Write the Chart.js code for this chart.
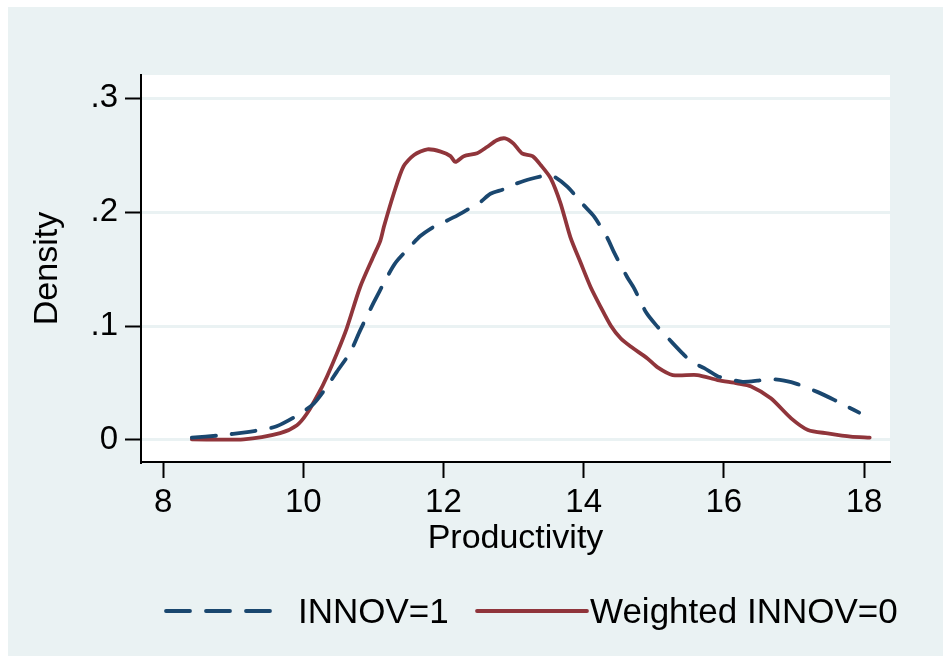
<!DOCTYPE html>
<html lang="en">
<head>
	<meta charset="UTF-8">
	<title>Productivity density</title>
	<script src="https://cdn.jsdelivr.net/npm/chart.js"></script>
	<style>
		html, body { margin: 0; padding: 0; background: #fff; }
		#wrap { position: absolute; left: 8px; top: 7px; width: 935px; height: 649px; background: #eaf2f3; }
	</style>
</head>
<body>
	<div id="wrap"><canvas id="mainChart" width="935" height="649"></canvas></div>

	<script>
		// kernel density, INNOV=1
		const innovX = [8.41, 8.8, 9.2, 9.4, 9.62, 9.9, 10.15, 10.34, 10.48, 10.67, 10.81, 11.0, 11.17, 11.31, 11.53, 11.67, 11.86, 12.0, 12.2, 12.34, 12.53, 12.67, 12.86, 13.0, 13.24, 13.46, 13.58, 13.77, 14.0, 14.15, 14.34, 14.43, 14.62, 14.72, 14.89, 15.03, 15.27, 15.41, 15.53, 15.72, 15.91, 16.1, 16.27, 16.48, 16.67, 16.86, 17.05, 17.34, 17.58, 17.77, 17.93]
		const innovY = [0.002, 0.004, 0.007, 0.009, 0.012, 0.021, 0.032, 0.047, 0.060, 0.077, 0.096, 0.12, 0.140, 0.155, 0.170, 0.179, 0.187, 0.191, 0.197, 0.202, 0.209, 0.216, 0.220, 0.224, 0.229, 0.232, 0.231, 0.222, 0.206, 0.196, 0.177, 0.165, 0.143, 0.133, 0.112, 0.101, 0.085, 0.076, 0.069, 0.063, 0.056, 0.053, 0.051, 0.052, 0.0535, 0.052, 0.049, 0.042, 0.035, 0.029, 0.024]

		// weighted INNOV=0
		const weightedX = [8.41, 9.15, 9.67, 9.91, 10.05, 10.22, 10.34, 10.48, 10.62, 10.81, 11.0, 11.1, 11.15, 11.29, 11.43, 11.58, 11.77, 11.96, 12.1, 12.17, 12.29, 12.48, 12.62, 12.76, 12.88, 13.0, 13.12, 13.27, 13.39, 13.53, 13.67, 13.81, 13.96, 14.1, 14.24, 14.39, 14.53, 14.67, 14.91, 15.05, 15.27, 15.62, 15.91, 16.19, 16.39, 16.67, 16.96, 17.2, 17.48, 17.81, 18.08]
		const weightedY = [0.0006, 0.0006, 0.006, 0.013, 0.023, 0.041, 0.056, 0.076, 0.098, 0.134, 0.161, 0.175, 0.187, 0.216, 0.240, 0.250, 0.255, 0.253, 0.249, 0.244, 0.249, 0.2515, 0.257, 0.263, 0.2646, 0.260, 0.2515, 0.249, 0.241, 0.2295, 0.2076, 0.178, 0.155, 0.134, 0.117, 0.100, 0.089, 0.082, 0.0716, 0.064, 0.057, 0.057, 0.0526, 0.0497, 0.047, 0.0366, 0.019, 0.0088, 0.0058, 0.0029, 0.002]

		const seriesLabels = ["INNOV=1", "Weighted INNOV=0"]
		const xTicks = [8, 10, 12, 14, 16, 18]
		const yTicks = [0, 0.1, 0.2, 0.3]
		const yTickLabels = ["0", ".1", ".2", ".3"]

		const FONT = "'Liberation Sans', Arial, sans-serif"

		const plotBg = {
			id: "plotBg",
			beforeDraw(chart) {
				const {ctx, chartArea: a} = chart
				ctx.save()
				ctx.fillStyle = "#ffffff"
				ctx.fillRect(a.left, a.top, a.right - a.left, a.bottom - a.top)
				ctx.restore()
			}
		}

		// stata style legend under the plot
		const stataLegend = {
			id: "stataLegend",
			afterDraw(chart, args, opts) {
				const ctx = chart.ctx
				ctx.save()
				ctx.font = `${opts.size}px ${FONT}`
				ctx.textBaseline = "alphabetic"
				ctx.fillStyle = "#000"
				chart.data.datasets.forEach((ds, i) => {
					const it = opts.items[i]
					ctx.strokeStyle = ds.borderColor
					ctx.lineWidth = ds.borderWidth
					ctx.lineCap = "round"
					ctx.setLineDash(ds.borderDash || [])
					ctx.beginPath()
					ctx.moveTo(it.lineX, opts.lineY)
					ctx.lineTo(it.lineX + opts.lineLen, opts.lineY)
					ctx.stroke()
					ctx.setLineDash([])
					ctx.fillText(ds.label, it.textX, opts.textY)
				})
				ctx.restore()
			}
		}

		const ctx = document.getElementById("mainChart")

		new Chart(ctx, {
			type: "line",
			data: {
				datasets: [
					{
						label: seriesLabels[0],
						data: innovX.map((x, i) => ({x: x, y: innovY[i]})),
						borderColor: "#1a476f",
						borderWidth: 3.8,
						borderDash: [24, 16],
						borderCapStyle: "round",
						pointRadius: 0,
						tension: 0.25,
						fill: false
					},
					{
						label: seriesLabels[1],
						data: weightedX.map((x, i) => ({x: x, y: weightedY[i]})),
						borderColor: "#90353b",
						borderWidth: 3.8,
						borderCapStyle: "round",
						pointRadius: 0,
						tension: 0.25,
						fill: false
					}
				]
			},
			options: {
				responsive: false,
				animation: false,
				devicePixelRatio: 1,
				layout: {padding: {left: 0, top: 68, right: 53, bottom: 0}},
				scales: {
					x: {
						type: "linear",
						min: 7.685,
						max: 18.37,
						afterFit: s => { s.height = 194 },
						afterBuildTicks: s => { s.ticks = xTicks.map(v => ({value: v})) },
						border: {display: true, color: "#000", width: 2},
						grid: {drawOnChartArea: false, drawTicks: true, tickLength: 16, tickColor: "#000", tickWidth: 2},
						ticks: {
							color: "#000",
							padding: 5,
							maxRotation: 0,
							font: {family: FONT, size: 33},
							callback: v => String(v)
						},
						title: {
							display: true,
							text: "Productivity",
							color: "#000",
							font: {family: FONT, size: 34},
							padding: {top: 0, bottom: 97}
						}
					},
					y: {
						min: -0.0193,
						max: 0.3202,
						afterFit: s => { s.width = 133 },
						afterBuildTicks: s => { s.ticks = yTicks.map(v => ({value: v})) },
						border: {display: true, color: "#000", width: 2},
						grid: {color: "#eaf2f3", lineWidth: 3, drawTicks: true, tickLength: 16, tickColor: "#000", tickWidth: 2},
						ticks: {
							color: "#000",
							padding: 7,
							font: {family: FONT, size: 33},
							callback: (v) => yTickLabels[yTicks.findIndex(t => Math.abs(t - v) < 1e-9)]
						},
						title: {
							display: true,
							text: "Density",
							color: "#000",
							font: {family: FONT, size: 34},
							padding: {top: 19, bottom: 0}
						}
					}
				},
				plugins: {
					legend: {display: false},
					tooltip: {enabled: false},
					stataLegend: {
						size: 35,
						lineY: 604,
						textY: 616,
						lineLen: 110,
						items: [{lineX: 158, textX: 290}, {lineX: 469, textX: 582}]
					}
				}
			},
			plugins: [plotBg, stataLegend]
		})
	</script>
</body>
</html>
